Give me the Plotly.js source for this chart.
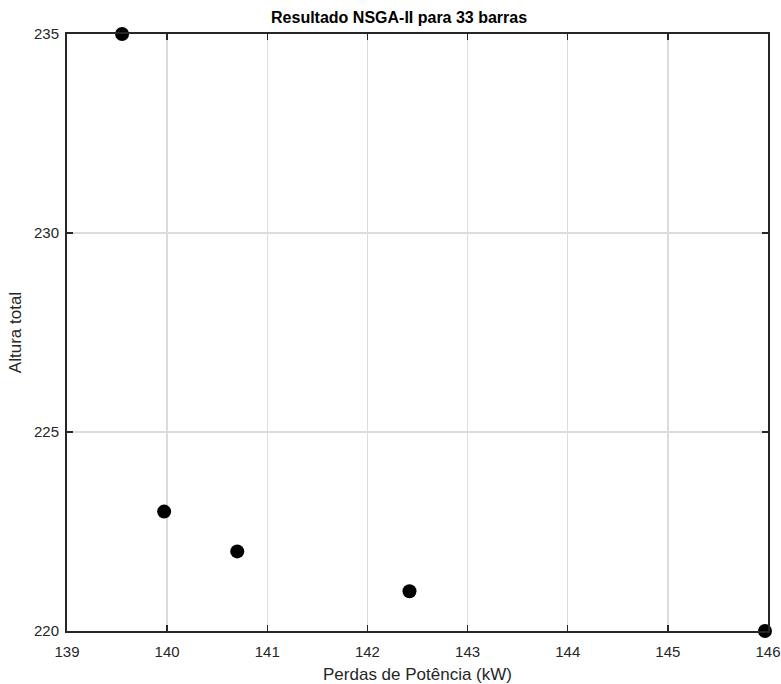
<!DOCTYPE html>
<html>
<head>
<meta charset="utf-8">
<script src="https://cdn.plot.ly/plotly-3.0.1.min.js"></script>
<style>html,body{margin:0;padding:0;background:#fff;}#chart{width:781px;height:684px;}</style>
</head>
<body>
<div id="chart"></div>
<script>
const perdas = [139.55, 139.97, 140.70, 142.42, 145.97];
const altura = [235, 223, 222, 221, 220];
const xTicks = [139, 140, 141, 142, 143, 144, 145, 146];
const yTicks = [220, 225, 230, 235];

const FONT = 'Liberation Sans, Arial, sans-serif';
const axisCommon = {
  showline: true, linecolor: '#262626', linewidth: 2, mirror: 'ticks',
  ticks: 'inside', ticklen: 6, tickwidth: 1.5, tickcolor: '#262626',
  showgrid: true, gridcolor: '#dcdcdc', gridwidth: 1.5, zeroline: false,
  tickfont: {family: FONT, size: 15, color: '#262626'}
};

Plotly.newPlot('chart', [{
  x: perdas, y: altura, type: 'scatter', mode: 'markers',
  marker: {color: '#000', size: 14}, cliponaxis: false, hoverinfo: 'none'
}], {
  width: 781, height: 684,
  margin: {l: 67, r: 13, t: 34, b: 53},
  paper_bgcolor: '#fff', plot_bgcolor: '#fff',
  title: {text: '<b>Resultado NSGA-II para 33 barras</b>', x: 0.511, xanchor: 'center', y: 0.974, yanchor: 'middle',
    font: {family: FONT, size: 16, color: '#000'}},
  xaxis: Object.assign({}, axisCommon, {range: [139, 146], tickvals: xTicks, ticktext: xTicks.map(String),
    ticklabelstandoff: 6,
    title: {text: 'Perdas de Potência (kW)', standoff: 9, font: {family: FONT, size: 17, color: '#262626'}}}),
  yaxis: Object.assign({}, axisCommon, {range: [220, 235], tickvals: yTicks, ticktext: yTicks.map(String),
    ticklabelstandoff: 3,
    title: {text: 'Altura total', standoff: 8, font: {family: FONT, size: 17, color: '#262626'}}}),
  showlegend: false
}, {staticPlot: true});
</script>
</body>
</html>
